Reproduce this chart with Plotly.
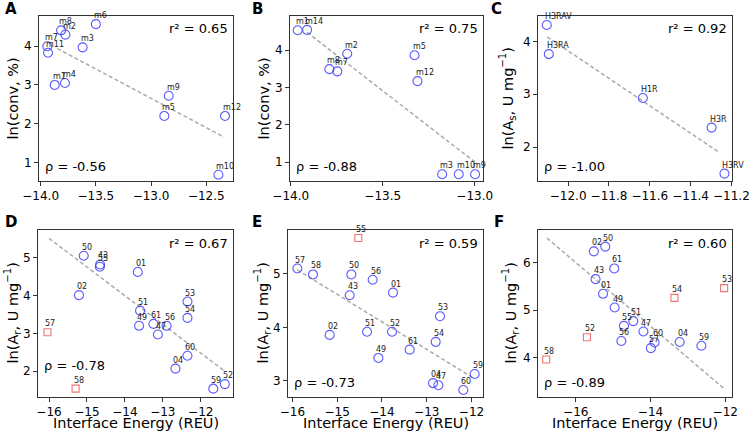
import plotly.graph_objects as go

# ---------------- data ----------------
# Panel A
a_labels = ["m1", "m2", "m3", "m4", "m5", "m6", "m7", "m8", "m9", "m10", "m11", "m12"]
a_x = [-13.873, -13.776, -13.62, -13.78, -12.88, -13.50, -13.94, -13.815, -12.84, -12.39, -13.933, -12.33]
a_y = [3.00, 4.30, 3.97, 3.05, 2.20, 4.57, 4.00, 4.41, 2.72, 0.68, 3.83, 2.20]
a_fit_x = [-13.85, -12.34]
a_fit_y = [3.94, 1.655]

# Panel B
b_labels = ["m1", "m14", "m2", "m8", "m7", "m5", "m12", "m3", "m10", "m9"]
b_x = [-13.962, -13.911, -13.693, -13.79, -13.747, -13.327, -13.311, -13.177, -13.087, -12.998]
b_y = [4.53, 4.54, 3.90, 3.49, 3.43, 3.86, 3.17, 0.68, 0.68, 0.68]
b_fit_x = [-13.91, -13.0]
b_fit_y = [4.47, 1.01]

# Panel C
c_labels = ["H3RAV", "H3RA", "H1R", "H3R", "H3RV"]
c_x = [-12.105, -12.095, -11.634, -11.297, -11.234]
c_y = [4.31, 3.76, 2.93, 2.37, 1.50]
c_fit_x = [-12.103, -11.257]
c_fit_y = [4.087, 1.894]

# Panel D
d_labels = ["50", "43", "55", "01", "02", "51", "49", "61", "56", "47", "53", "54", "60", "04", "59", "52"]
d_x = [-15.085, -14.654, -14.66, -13.66, -15.21, -13.60, -13.625, -13.247, -12.90, -13.13,
       -12.35, -12.35, -12.35, -12.667, -11.67, -11.365]
d_y = [5.05, 4.82, 4.76, 4.62, 4.01, 3.60, 3.20, 3.25, 3.20, 2.97, 3.84, 3.41, 2.41, 2.07, 1.54, 1.66]
d_out_labels = ["57", "58"]
d_out_x = [-16.04, -15.30]
d_out_y = [3.03, 1.54]
d_fit_x = [-16.0, -11.365]
d_fit_y = [5.51, 2.0]

# Panel E
e_labels = ["57", "58", "50", "56", "43", "01", "53", "02", "51", "52", "61", "49", "54", "04", "47", "60", "59"]
e_x = [-15.888, -15.539, -14.683, -14.207, -14.72, -13.753, -12.704, -15.167, -14.333, -13.775,
       -13.381, -14.08, -12.80, -12.86, -12.74, -12.183, -11.93]
e_y = [5.10, 4.99, 4.99, 4.89, 4.60, 4.65, 4.21, 3.86, 3.92, 3.92, 3.585, 3.43, 3.73, 2.96, 2.92, 2.83, 3.13]
e_out_labels = ["55"]
e_out_x = [-14.527]
e_out_y = [5.67]
e_fit_x = [-15.888, -11.93]
e_fit_y = [5.075, 3.04]

# Panel F
f_labels = ["02", "50", "61", "43", "01", "49", "51", "55", "47", "56", "60", "57", "04", "59"]
f_x = [-15.517, -15.21, -14.97, -15.47, -15.27, -14.96, -14.46, -14.71, -14.19, -14.78,
       -13.89, -13.99, -13.22, -12.64]
f_y = [6.24, 6.34, 5.88, 5.655, 5.345, 5.056, 4.77, 4.67, 4.55, 4.35, 4.32, 4.20, 4.33, 4.25]
f_out_labels = ["58", "52", "54", "53"]
f_out_x = [-16.79, -15.70, -13.36, -12.03]
f_out_y = [3.96, 4.43, 5.26, 5.465]
f_fit_x = [-16.77, -12.03]
f_fit_y = [6.52, 3.345]

panel_letters = ["A", "B", "C", "D", "E", "F"]
r2_texts = ["r² = 0.65", "r² = 0.75", "r² = 0.92", "r² = 0.67", "r² = 0.59", "r² = 0.60"]
rho_texts = ["ρ = -0.56", "ρ = -0.88", "ρ = -1.00", "ρ = -0.78", "ρ = -0.73", "ρ = -0.89"]
y_titles = ["ln(conv, %)", "ln(conv, %)", "ln(A<sub>s</sub>, U mg<sup>−1</sup>)",
            "ln(A<sub>r</sub>, U mg<sup>−1</sup>)", "ln(A<sub>r</sub>, U mg<sup>−1</sup>)",
            "ln(A<sub>r</sub>, U mg<sup>−1</sup>)"]
x_title = "Interface Energy (REU)"

# ---------------- layout geometry ----------------
W, H = 750, 435
frames = [  # left, right, top, bottom in px
    (39, 233, 16, 181), (290, 483, 16, 181), (538, 732, 16, 181),
    (38, 233, 230, 397), (288, 483, 230, 397), (538, 732, 230, 397),
]
x_ranges = [[-14.015, -12.258], [-14.004, -12.955], [-12.148, -11.197],
            [-16.29, -11.15], [-16.097, -11.744], [-17.01, -11.82]]
y_ranges = [[0.52, 4.78], [0.50, 4.91], [1.36, 4.48],
            [1.32, 5.73], [2.70, 5.82], [3.17, 6.69]]
x_dticks = [0.5, 0.5, 0.2, 1, 1, 2]
x_formats = [".1f", ".1f", ".1f", "d", "d", "d"]
x_tick0 = [-14, -14, -12, -16, -16, -16]
rho_y_px = [167, 167, 167, 365, 382, 382]
ytitle_x_px = [12, 263, 507, 12, 262, 510]
letter_x_px = [3, 250, 489, 3, 250, 492]
letter_y_px = [9, 9, 9, 222, 222, 222]

blue = "rgba(60,60,255,0.85)"
red = "rgba(240,90,90,0.85)"
grey = "#aaaaaa"

panels = [
    (a_x, a_y, a_labels, [], [], [], a_fit_x, a_fit_y),
    (b_x, b_y, b_labels, [], [], [], b_fit_x, b_fit_y),
    (c_x, c_y, c_labels, [], [], [], c_fit_x, c_fit_y),
    (d_x, d_y, d_labels, d_out_x, d_out_y, d_out_labels, d_fit_x, d_fit_y),
    (e_x, e_y, e_labels, e_out_x, e_out_y, e_out_labels, e_fit_x, e_fit_y),
    (f_x, f_y, f_labels, f_out_x, f_out_y, f_out_labels, f_fit_x, f_fit_y),
]

fig = go.Figure()
annotations = []
layout_axes = {}
tick_font = dict(family="DejaVu Sans", size=12, color="black")

for i, (px_, py_, lab, ox, oy, olab, fx, fy) in enumerate(panels):
    n = i + 1
    xa = "x" if n == 1 else f"x{n}"
    ya = "y" if n == 1 else f"y{n}"
    l, r, t, b = frames[i]
    layout_axes["xaxis" if n == 1 else f"xaxis{n}"] = dict(
        domain=[l / W, r / W], anchor=ya, range=x_ranges[i], automargin=False,
        tick0=x_tick0[i], dtick=x_dticks[i], tickformat=x_formats[i],
        showline=True, mirror=True, linecolor="#333333", linewidth=1,
        ticks="outside", ticklen=4, tickcolor="#333333", showgrid=False,
        zeroline=False, tickfont=tick_font,
    )
    layout_axes["yaxis" if n == 1 else f"yaxis{n}"] = dict(
        domain=[1 - b / H, 1 - t / H], anchor=xa, range=y_ranges[i], automargin=False,
        dtick=1, showline=True, mirror=True, linecolor="#333333", linewidth=1,
        ticks="outside", ticklen=4, tickcolor="#333333", showgrid=False,
        zeroline=False, tickfont=tick_font,
    )
    fig.add_trace(go.Scatter(x=fx, y=fy, xaxis=xa, yaxis=ya, mode="lines",
                             line=dict(color=grey, width=1.5, dash="4px,2.5px"),
                             showlegend=False, hoverinfo="skip"))
    fig.add_trace(go.Scatter(x=px_, y=py_, xaxis=xa, yaxis=ya, mode="markers",
                             marker=dict(symbol="circle-open", size=9, color=blue,
                                         line=dict(width=1.1)),
                             showlegend=False))
    if ox:
        fig.add_trace(go.Scatter(x=ox, y=oy, xaxis=xa, yaxis=ya, mode="markers",
                                 marker=dict(symbol="square-open", size=7, color=red,
                                             line=dict(width=1.1)),
                                 showlegend=False))
    for xx, yy, tt in list(zip(px_, py_, lab)) + list(zip(ox, oy, olab)):
        annotations.append(dict(x=xx, y=yy, xref=xa, yref=ya, text=tt, showarrow=False,
                                xanchor="left", yanchor="bottom", xshift=-4, yshift=2,
                                font=dict(family="DejaVu Sans", size=8, color="#222222")))
    # r2 and rho
    annotations.append(dict(x=(r - 3) / W, y=1 - 29 / H if i < 3 else 1 - 243 / H,
                            xref="paper", yref="paper", text=r2_texts[i], showarrow=False,
                            xanchor="right", yanchor="middle",
                            font=dict(family="DejaVu Sans", size=13, color="black")))
    annotations.append(dict(x=(l + 4) / W, y=1 - rho_y_px[i] / H,
                            xref="paper", yref="paper", text=rho_texts[i], showarrow=False,
                            xanchor="left", yanchor="middle",
                            font=dict(family="DejaVu Sans", size=13, color="black")))
    # y title
    annotations.append(dict(x=ytitle_x_px[i] / W, y=1 - ((t + b) / 2) / H,
                            xref="paper", yref="paper", text=y_titles[i], showarrow=False,
                            textangle=-90, xanchor="center", yanchor="middle",
                            font=dict(family="DejaVu Sans", size=14.5, color="black")))
    # x title (bottom row)
    if i >= 3:
        annotations.append(dict(x=((l + r) / 2) / W, y=1 - 423 / H, xref="paper", yref="paper",
                                text=x_title, showarrow=False,
                                xanchor="center", yanchor="middle",
                                font=dict(family="DejaVu Sans", size=14.5, color="black")))
    # panel letter
    annotations.append(dict(x=letter_x_px[i] / W, y=1 - letter_y_px[i] / H,
                            xref="paper", yref="paper", text="<b>" + panel_letters[i] + "</b>",
                            showarrow=False, xanchor="left", yanchor="middle",
                            font=dict(family="DejaVu Sans", size=15, color="black")))

fig.update_layout(
    width=W, height=H, margin=dict(l=0, r=0, t=0, b=0, autoexpand=False),
    paper_bgcolor="white", plot_bgcolor="white",
    annotations=annotations, showlegend=False,
    **layout_axes,
)

fig.write_html("out.html", config={"displayModeBar": False},
               post_script="document.body.style.margin='0';document.body.style.overflow='hidden';")
